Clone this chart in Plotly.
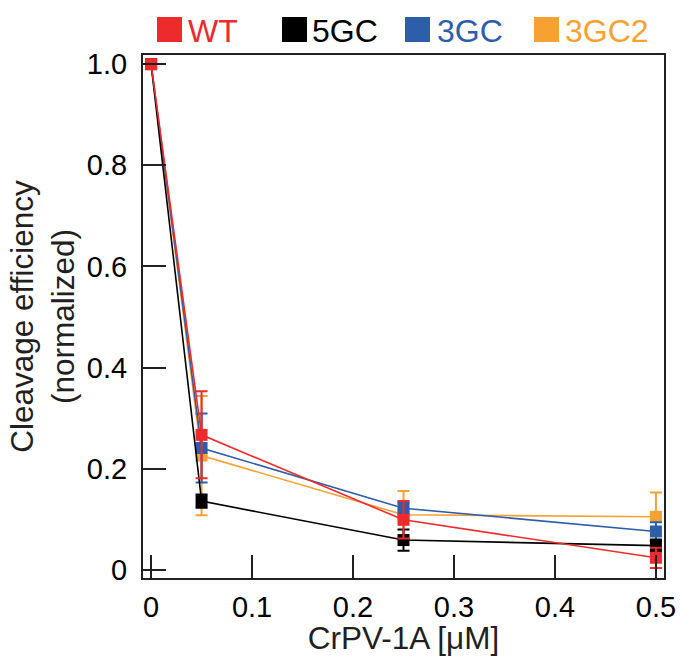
import plotly.graph_objects as go

# ---- data ----
concentrations = [0, 0.05, 0.25, 0.5]
series_names = ["3GC2", "3GC", "5GC", "WT"]
wt_values = [1.0, 0.267, 0.099, 0.024]
wt_errors = [0, 0.086, 0.037, 0.02]
gc5_values = [1.0, 0.136, 0.059, 0.048]
gc5_errors = [0, 0.013, 0.021, 0.012]
gc3_values = [1.0, 0.241, 0.122, 0.076]
gc3_errors = [0, 0.068, 0.012, 0.018]
gc3b_values = [1.0, 0.226, 0.109, 0.105]
gc3b_errors = [0, 0.118, 0.047, 0.048]
x_tickvals = [0, 0.1, 0.2, 0.3, 0.4, 0.5]
x_ticktext = ["0", "0.1", "0.2", "0.3", "0.4", "0.5"]
y_tickvals = [0, 0.2, 0.4, 0.6, 0.8, 1.0]
y_ticktext = ["0", "0.2", "0.4", "0.6", "0.8", "1.0"]
legend_order = ["WT", "5GC", "3GC", "3GC2"]

colors = {"WT": "#EE2B2C", "5GC": "#000000", "3GC": "#2E5DA9", "3GC2": "#F8A133"}
values = {"WT": wt_values, "5GC": gc5_values, "3GC": gc3_values, "3GC2": gc3b_values}
errors = {"WT": wt_errors, "5GC": gc5_errors, "3GC": gc3_errors, "3GC2": gc3b_errors}

FONT = "Liberation Sans, Arial, Helvetica, sans-serif"
W, H = 680, 656
ML, MR, MT, MB = 143, 16, 55, 78

fig = go.Figure()
for name in series_names:
    c = colors[name]
    fig.add_trace(go.Scatter(
        x=concentrations, y=values[name], name=name, mode="lines+markers",
        line=dict(color=c, width=1.6),
        marker=dict(symbol="square", size=12, color=c),
        error_y=dict(type="data", array=errors[name], visible=True,
                     color=c, thickness=2, width=6),
        showlegend=False, cliponaxis=False,
    ))

# custom legend (coloured squares + coloured text)
pw, ph = W - ML - MR, H - MT - MB
def px_to_paper_x(px):
    return (px - ML) / pw
def px_to_paper_y(py):
    return (H - MB - py) / ph

legend_sq_left = [157, 282, 405, 534]
legend_text_left = [186, 310, 435, 563]
for name, sq, tx in zip(legend_order, legend_sq_left, legend_text_left):
    fig.add_shape(type="rect", xref="paper", yref="paper",
                  x0=px_to_paper_x(sq), x1=px_to_paper_x(sq + 25),
                  y0=px_to_paper_y(42), y1=px_to_paper_y(17),
                  fillcolor=colors[name], line=dict(width=0))
    fig.add_annotation(xref="paper", yref="paper",
                       x=px_to_paper_x(tx), y=px_to_paper_y(31),
                       xanchor="left", yanchor="middle", showarrow=False,
                       text=name, font=dict(family=FONT, size=32, color=colors[name]))

axis_common = dict(
    showline=True, linecolor="#231F20", linewidth=2, mirror=True,
    ticks="inside", ticklen=23, tickwidth=2, tickcolor="#231F20",
    showgrid=False, zeroline=False, automargin=False,
    tickfont=dict(family=FONT, size=29, color="#000000"),
)

fig.update_layout(
    width=W, height=H,
    margin=dict(l=ML, r=MR, t=MT, b=MB),
    paper_bgcolor="white", plot_bgcolor="white",
    xaxis=dict(range=[-0.008, 0.508], tickvals=x_tickvals, ticktext=x_ticktext,
               ticklabelstandoff=2,
               title=dict(text="CrPV-1A [μM]", standoff=4,
                          font=dict(family=FONT, size=31.5, color="#231F20")),
               **axis_common),
    yaxis=dict(range=[-0.016, 1.018], tickvals=y_tickvals, ticktext=y_ticktext,
               ticklabelstandoff=8,
               title=dict(text="Cleavage efficiency<br>(normalized)", standoff=3,
                          font=dict(family=FONT, size=31.5, color="#231F20")),
               **axis_common),
)

fig.write_html("out.html",
               config={"displayModeBar": False},
               post_script="document.body.style.margin='0';document.body.style.overflow='hidden';")
